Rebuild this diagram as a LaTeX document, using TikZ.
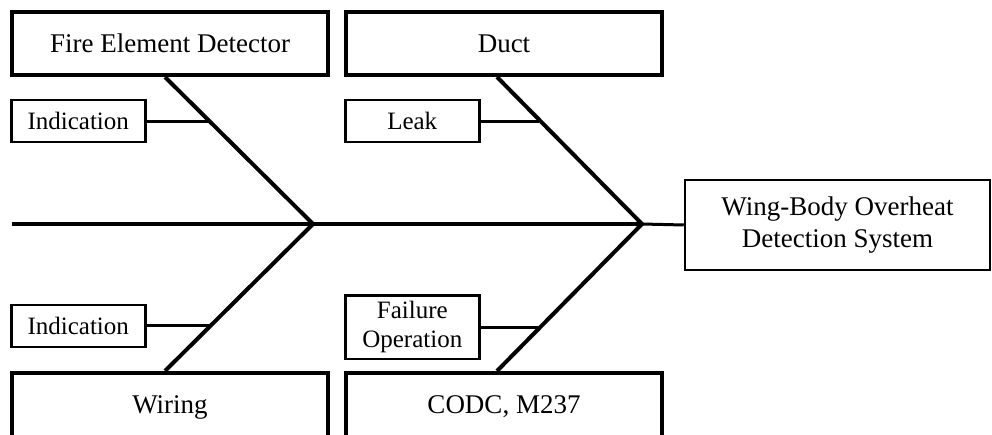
\documentclass[tikz,border=0pt]{standalone}
\usepackage{fontspec}
\setmainfont{Liberation Serif}
\usetikzlibrary{positioning}

\begin{document}
\begin{tikzpicture}[x=1pt,y=-1pt,
  cause/.style={draw,line width=4pt,minimum width=316pt,minimum height=63pt,inner sep=0pt,font=\fontsize{27}{31}\selectfont},
  sub/.style={draw,line width=2.5pt,minimum width=134pt,minimum height=42pt,inner sep=0pt,align=center,font=\fontsize{25}{29}\selectfont},
  bone/.style={line width=4pt},
  twig/.style={line width=3pt}]
\useasboundingbox (0,0) rectangle (992,435);
\clip (0,0) rectangle (992,435);
% cause boxes
\node[cause] (fed) at (170,43.5) {Fire Element Detector};
\node[cause,right=14pt of fed] (duct) {Duct};
\node[cause,minimum height=68pt] (wir) at (170,407) {Wiring};
\node[cause,minimum height=68pt,right=14pt of wir] (codc) {CODC, M237};
% effect
\node[draw,line width=2.5pt,minimum width=305pt,minimum height=90pt,inner sep=0pt,align=center,font=\fontsize{27}{31.5}\selectfont]
  (wbo) at (837.5,225) {Wing-Body Overheat\\Detection System};
% sub causes
\node[sub,below right=22pt and 0pt of fed.south west] (ind1) {Indication};
\node[sub,below right=22pt and 0pt of duct.south west] (leak) {Leak};
\node[sub,above right=23pt and 0pt of wir.north west] (ind2) {Indication};
\node[sub,minimum height=63pt,above right=11pt and 0pt of codc.north west] (fail) {Failure\\Operation};
% spine
\coordinate (tail) at (12,224);
\coordinate (j1) at (313,224);
\coordinate (j2) at (642,224);
\draw[bone] (tail) -- (j2);
\draw[twig] (j2) -- (wbo.west);
% bones
\draw[bone] ([xshift=-5pt]fed.south) -- coordinate[pos=0.29] (b1) (j1)
  -- coordinate[pos=0.7] (b2) ([xshift=-5pt]wir.north);
\draw[bone] ([xshift=-7pt]duct.south) -- coordinate[pos=0.29] (b3) (j2)
  -- coordinate[pos=0.715] (b4) ([xshift=-7pt]codc.north);
\draw[twig] (ind1.east) -- (ind1.east -| b1);
\draw[twig] (ind2.east) -- (ind2.east -| b2);
\draw[twig] (leak.east) -- (leak.east -| b3);
\draw[twig] (fail.east) -- (fail.east -| b4);
\end{tikzpicture}
\end{document}
